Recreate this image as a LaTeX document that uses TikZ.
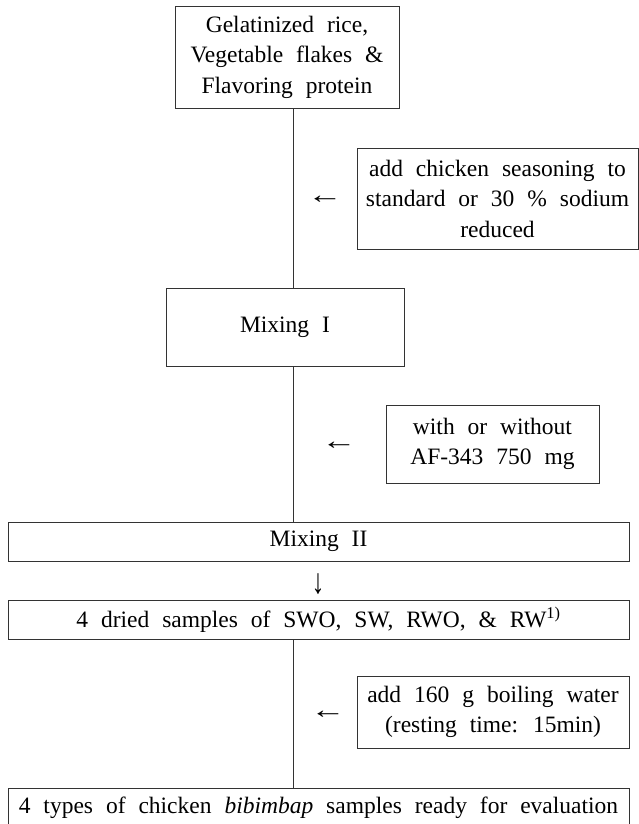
\documentclass[tikz,border=0pt]{standalone}
\usepackage{fontspec}
\setmainfont{Liberation Serif}
\newcommand\diagfont{\fontsize{23.5}{30.5}\selectfont\spaceskip=0.55em plus 0.1em minus 0.1em\relax}
\newcommand\leftglyph{\scalebox{1.5}[1.1]{←}}
\newcommand\downglyph{\scalebox{1.1}[1.5]{↓}}
\begin{document}
\begin{tikzpicture}[x=1pt,y=-1pt,
  box/.style={draw=black!80, line width=0.9pt, inner sep=0pt, align=center, anchor=center, font=\diagfont},
  glyph/.style={inner sep=0pt, anchor=center, font=\diagfont},
  link/.style={draw=black!80, line width=0.9pt}]
\useasboundingbox (0,0) rectangle (639,824);
\coordinate (spine) at (293,0);
\node[box, minimum width=224pt, minimum height=102pt] (raw) at (287,57)
  {Gelatinized rice,\\Vegetable flakes \&\\Flavoring protein};
\node[box, minimum width=281pt, minimum height=101pt] (season) at (497.5,198.5)
  {add chicken seasoning to\\standard or 30 \% sodium\\reduced};
\node[glyph] (a1) at (325,200) {\leftglyph};
\node[box, minimum width=238pt, minimum height=78pt] (mix1) at (285,327) {Mixing I};
\node[box, minimum width=213pt, minimum height=78pt] (af) at (492.5,444)
  {with or without\\AF-343 750 mg};
\node[glyph] (a2) at (339,446) {\leftglyph};
\node[box, minimum width=621pt, minimum height=39pt] (mix2) at (318.5,541.5) {Mixing II};
\node[glyph] (a3) at (318,584) {\downglyph};
\node[box, minimum width=621pt, minimum height=39pt] (dried) at (318.5,619.5)
  {4 dried samples of SWO, SW, RWO, \& RW\textsuperscript{1)}};
\node[box, minimum width=272pt, minimum height=72pt] (water) at (493,712)
  {add 160 g boiling water\\(resting time: 15min)};
\node[glyph] (a4) at (328,715) {\leftglyph};
\node[box, minimum width=621pt, minimum height=39pt] (final) at (318.5,807.5)
  {4 types of chicken \textit{bibimbap} samples ready for evaluation};
\draw[link] (raw.south -| spine) -- (mix1.north -| spine);
\draw[link] (mix1.south -| spine) -- (mix2.north -| spine);
\draw[link] (dried.south -| spine) -- (final.north -| spine);
\end{tikzpicture}
\end{document}
